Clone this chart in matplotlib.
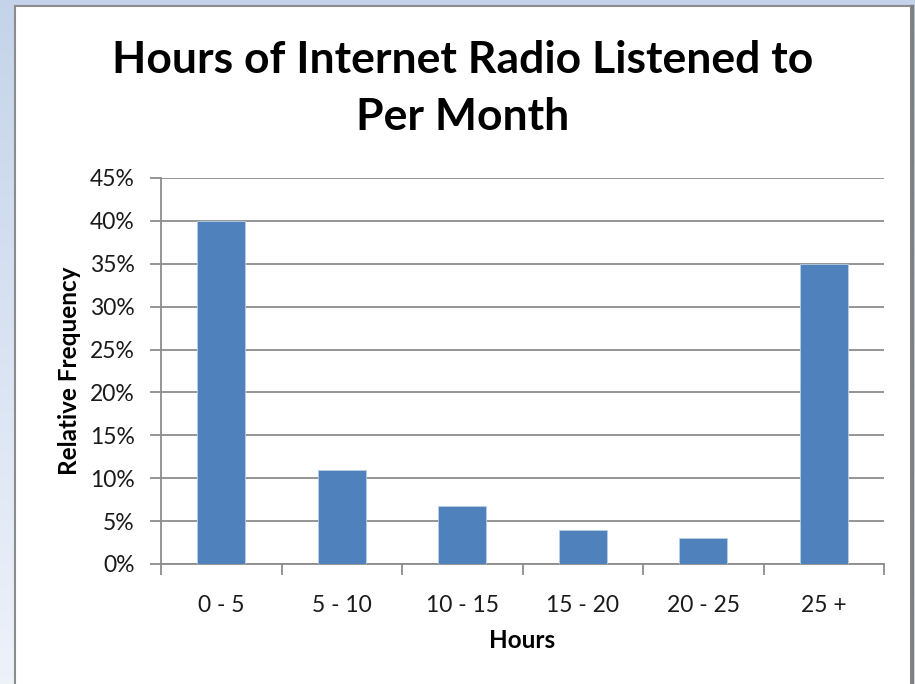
import numpy as np
import matplotlib.pyplot as plt
from matplotlib.patches import Rectangle
from matplotlib.ticker import PercentFormatter

# relative frequency of hours listened per month
bins = ['0 - 5', '5 - 10', '10 - 15', '15 - 20', '20 - 25', '25 +']
rel_freq = [40, 11, 6.8, 4, 3, 35]

plt.rcParams['font.family'] = ['Lato', 'DejaVu Sans']

W, H = 915, 684
fig = plt.figure(figsize=(W / 100, H / 100), dpi=100)

# slide background: soft blue gradient behind the chart frame
bg = fig.add_axes([0, 0, 1, 1], zorder=-10)
grad = np.linspace(0, 1, 256)[:, None, None]
top_col = np.array([0.77, 0.83, 0.92])
bot_col = np.array([0.93, 0.95, 0.98])
img = np.tile(top_col + (bot_col - top_col) * grad, (1, 2, 1))
bg.imshow(img, aspect='auto', extent=[0, W, H, 0])
bg.set_xlim(0, W)
bg.set_ylim(H, 0)
bg.axis('off')

# white chart area with grey border
bg.add_patch(Rectangle((15, 6), 896, H, facecolor='white', edgecolor='#8c8c8c', linewidth=1.5))
bg.plot([911.5, 911.5], [6, H], color='#7f7f7f', linewidth=2.5)

ax = fig.add_axes([161 / W, 1 - 564 / H, (884 - 161) / W, (564 - 178) / H])
x = np.arange(len(bins))
ax.bar(x, rel_freq, width=0.4, color='#4F81BD', edgecolor='#b9cde5', linewidth=0.6, zorder=3)

ax.set_xlim(-0.5, len(bins) - 0.5)
ax.set_ylim(0, 45)
ax.set_yticks(np.arange(0, 46, 5))
ax.yaxis.set_major_formatter(PercentFormatter(decimals=0))
ax.grid(axis='y', color='#8c8c8c', linewidth=1.3, zorder=0)

ax.set_xticks(x)
ax.set_xticklabels(bins)
ax.set_xticks(np.arange(len(bins) + 1) - 0.5, minor=True)
ax.tick_params(axis='x', which='major', length=0, pad=22, labelsize=16.5, labelcolor='#1a1a1a')
ax.tick_params(axis='x', which='minor', length=8, width=1.3, color='#8c8c8c')
ax.tick_params(axis='y', length=8, width=1.3, color='#8c8c8c', pad=11, labelsize=16.5, labelcolor='#1a1a1a')

for side in ['top', 'right']:
    ax.spines[side].set_visible(False)
for side in ['left', 'bottom']:
    ax.spines[side].set_color('#8c8c8c')
    ax.spines[side].set_linewidth(1.3)

ax.set_xlabel('Hours', fontsize=17.5, fontweight='bold', labelpad=10)
ax.set_ylabel('Relative Frequency', fontsize=17.5, fontweight='bold', labelpad=6)

fig.text(463 / W, 1 - 60 / H, 'Hours of Internet Radio Listened to', ha='center', va='center',
         fontsize=32, fontweight='bold')
fig.text(463 / W, 1 - 117 / H, 'Per Month', ha='center', va='center',
         fontsize=32, fontweight='bold')

fig.savefig('out.png', dpi=100)
